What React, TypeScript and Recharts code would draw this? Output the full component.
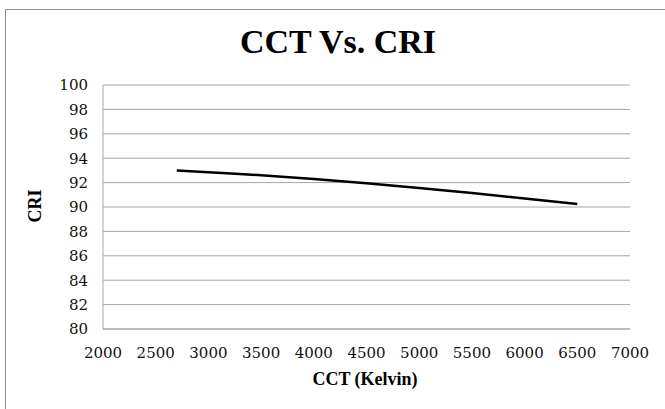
import React from 'react';
import { LineChart, Line, XAxis, YAxis, CartesianGrid } from 'recharts';

const cctValues = [2700, 3000, 3500, 4000, 4500, 5000, 5500, 6000, 6500];
const criValues = [93.0, 92.85, 92.6, 92.3, 91.95, 91.55, 91.15, 90.7, 90.25];
const xTicks = [2000, 2500, 3000, 3500, 4000, 4500, 5000, 5500, 6000, 6500, 7000];
const yTicks = [80, 82, 84, 86, 88, 90, 92, 94, 96, 98, 100];

const chartTitle = 'CCT Vs. CRI';
const xTitle = 'CCT (Kelvin)';
const yTitle = 'CRI';

const data = cctValues.map((x, i) => ({ cct: x, cri: criValues[i] }));

const serifTick = "'DejaVu Serif', 'Liberation Serif', serif";
const serifTitle = "'Liberation Serif', 'Times New Roman', serif";
const tickFont = { fontFamily: serifTick, fontSize: 15, fill: '#111111' };
const gray = '#a6a6a6';

export default function App() {
  return (
    <div
      style={{
        position: 'absolute',
        left: 0,
        top: 0,
        width: 665,
        height: 409,
        overflow: 'hidden',
        background: '#ffffff',
      }}
    >
      <div
        style={{
          position: 'absolute',
          left: 5,
          top: 9,
          width: 720,
          height: 460,
          border: '1px solid #8f8f8f',
          boxSizing: 'border-box',
        }}
      />
      <div style={{ position: 'absolute', left: 0, top: 0 }}>
        <LineChart
          width={665}
          height={409}
          data={data}
          margin={{ top: 85, right: 35, bottom: 50, left: 43 }}
          style={{ fontFamily: serifTick }}
        >
          <CartesianGrid horizontal={true} vertical={false} stroke={gray} strokeWidth={1} />
          <XAxis
            dataKey="cct"
            type="number"
            domain={[2000, 7000]}
            ticks={xTicks}
            interval={0}
            height={30}
            tickLine={false}
            axisLine={{ stroke: gray, strokeWidth: 1 }}
            tick={tickFont}
            tickMargin={12}
            allowDataOverflow={true}
          />
          <YAxis
            type="number"
            domain={[80, 100]}
            ticks={yTicks}
            interval={0}
            width={60}
            tickLine={false}
            axisLine={{ stroke: gray, strokeWidth: 1 }}
            tick={tickFont}
            tickMargin={9}
            allowDataOverflow={true}
          />
          <Line
            type="monotone"
            dataKey="cri"
            stroke="#000000"
            strokeWidth={2.5}
            dot={false}
            isAnimationActive={false}
          />
        </LineChart>
      </div>
      <div
        style={{
          position: 'absolute',
          left: 0,
          top: 25,
          width: 676,
          textAlign: 'center',
          fontFamily: serifTitle,
          fontWeight: 'bold',
          fontSize: 34,
          lineHeight: 1,
          color: '#000',
          whiteSpace: 'nowrap',
        }}
      >
        {chartTitle}
      </div>
      <div
        style={{
          position: 'absolute',
          left: 0,
          top: 370,
          width: 730,
          textAlign: 'center',
          fontFamily: serifTitle,
          fontWeight: 'bold',
          fontSize: 18,
          lineHeight: 1,
          color: '#000',
          whiteSpace: 'nowrap',
        }}
      >
        {xTitle}
      </div>
      <div
        style={{
          position: 'absolute',
          left: 35,
          top: 206,
          transform: 'translate(-50%, -50%) rotate(-90deg)',
          fontFamily: serifTitle,
          fontWeight: 'bold',
          fontSize: 18,
          lineHeight: 1,
          color: '#000',
          whiteSpace: 'nowrap',
        }}
      >
        {yTitle}
      </div>
    </div>
  );
}
